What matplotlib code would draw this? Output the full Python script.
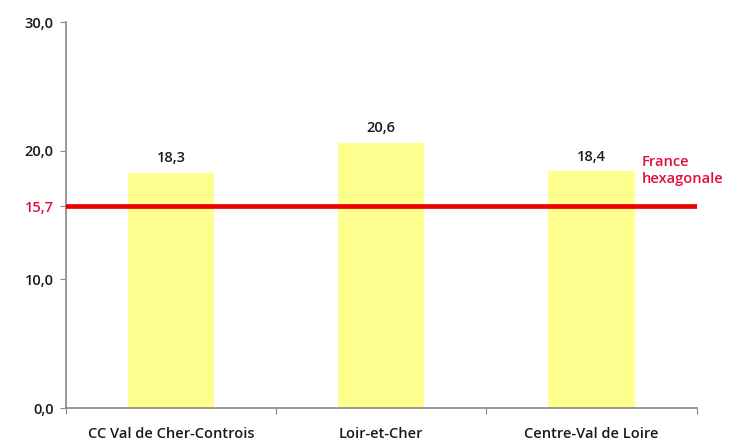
import matplotlib.pyplot as plt

categories = ['CC Val de Cher-Controis', 'Loir-et-Cher', 'Centre-Val de Loire']
values = [18.3, 20.6, 18.4]
france_value = 15.7
france_label = 'France\nhexagonale'
y_ticks = [0, 10, 20, 30]

plt.rcParams['font.family'] = ['Open Sans', 'DejaVu Sans']
plt.rcParams['font.weight'] = 'semibold'
FS = 10.5
TXT = '#1a1a1a'

fig = plt.figure(figsize=(7.35, 4.44), dpi=100)
ax = fig.add_axes([0.0898, 0.081, 0.858, 0.869])

x = range(len(categories))
ax.bar(x, values, width=0.41, color='#FFFF8F', zorder=2)
for xi, v in zip(x, values):
    ax.text(xi, v + 0.6, f'{v:.1f}'.replace('.', ','), ha='center', va='bottom',
            fontsize=FS, color=TXT)

ax.axhline(france_value, color='#EE0000', linewidth=3.4, zorder=3)
ax.text(2.24, france_value + 1.6, france_label, color='#E0103A', fontsize=FS,
        ha='left', va='bottom', linespacing=1.2)

ax.set_xlim(-0.5, 2.5)
ax.set_ylim(0, 30)
ax.set_xticks([-0.5, 0.5, 1.5, 2.5])
ax.set_xticklabels([])
ax.set_xticks(list(x), minor=True)
ax.set_xticklabels(categories, minor=True, fontsize=FS, color=TXT)
ax.tick_params(axis='x', which='minor', length=0, pad=14)
ax.tick_params(axis='x', which='major', length=4, color='#888888', direction='out')

ticks = y_ticks + [france_value]
ax.set_yticks(ticks)
ax.set_yticklabels([f'{t:.1f}'.replace('.', ',') for t in ticks], fontsize=FS)
ax.tick_params(axis='y', length=4, color='#888888', pad=5)
for lbl, t in zip(ax.get_yticklabels(), ticks):
    lbl.set_color('#E0103A' if t == france_value else TXT)

for side in ['top', 'right']:
    ax.spines[side].set_visible(False)
for side in ['left', 'bottom']:
    ax.spines[side].set_color('#888888')
    ax.spines[side].set_linewidth(1.2)

fig.savefig('out.png', dpi=100)
